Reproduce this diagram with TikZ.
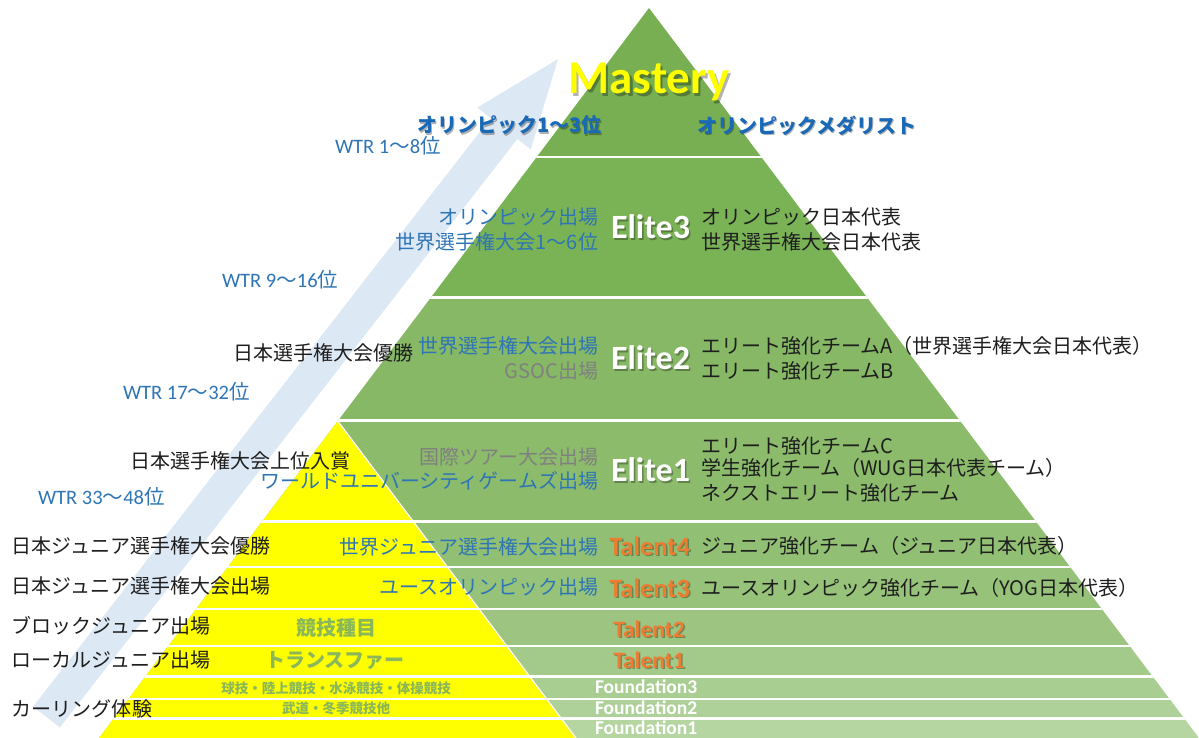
\documentclass[tikz,border=0pt]{standalone}
\usepackage{fontspec}
\setmainfont{Carlito}
\newfontfamily\jpf{Noto Sans CJK JP}
\newfontfamily\latf{Carlito}
\definecolor{arrowblue}{RGB}{221,232,245}
\definecolor{ablue}{RGB}{46,117,182}
\definecolor{dblue}{RGB}{25,105,182}
\definecolor{agray}{RGB}{128,128,128}
\definecolor{aorange}{RGB}{237,125,49}
\definecolor{tgreen}{RGB}{137,183,89}
\definecolor{tblack}{RGB}{30,30,30}
\definecolor{gA}{RGB}{119,175,82}
\definecolor{gB}{RGB}{122,178,86}
\definecolor{gC}{RGB}{134,184,101}
\definecolor{gD}{RGB}{139,187,107}
\definecolor{gE}{RGB}{145,191,115}
\definecolor{gF}{RGB}{150,194,121}
\definecolor{gG}{RGB}{157,197,129}
\definecolor{gH}{RGB}{163,202,138}
\definecolor{gI}{RGB}{169,206,146}
\definecolor{gJ}{RGB}{174,209,153}
\definecolor{gK}{RGB}{181,213,161}
\definecolor{pyellow}{RGB}{255,255,0}
\newcommand\wtrlabel[2]{{\latf WTR #1}{\jpf 〜}{\latf #2}{\jpf 位}}
\tikzset{
  base/.style={inner sep=0pt, outer sep=0pt},
  jp/.style={base, font=\jpf\fontsize{20}{24}\selectfont},
  jpblack/.style={jp, text=tblack},
  jpblue/.style={jp, text=ablue},
  jpgray/.style={jp, text=agray},
  jpbold/.style={base, font=\jpf\bfseries\fontsize{20}{24}\selectfont, text=dblue},
  wtr/.style={base, font=\fontsize{20.5}{24}\selectfont, text=ablue},
  sport/.style={base, font=\jpf\bfseries\fontsize{20}{24}\selectfont, text=tgreen},
  sportsmall/.style={base, font=\jpf\bfseries\fontsize{13.5}{16}\selectfont, text=tgreen},
  elite/.style={base, font=\latf\bfseries\fontsize{34}{40}\selectfont, text=white},
  talentbig/.style={base, font=\latf\bfseries\fontsize{26.5}{30}\selectfont, text=aorange},
  talentsmall/.style={base, font=\latf\bfseries\fontsize{23.5}{28}\selectfont, text=aorange},
  found/.style={base, font=\latf\bfseries\fontsize{19.5}{22}\selectfont, text=white},
  mastery/.style={base, font=\latf\bfseries\fontsize{47}{54}\selectfont, text=pyellow},
  shade/.style={text=black, text opacity=0.3},
  sep/.style={white, line width=2.4pt},
}
\begin{document}
\begin{tikzpicture}[x=1pt,y=-1pt]
\path[use as bounding box] (0,0) rectangle (1199,738);
\clip (0,0) rectangle (1199,738);
% big arrow
\fill[arrowblue] (33.1,706.6) -- (490.6,118.1) -- (477.2,107.6) -- (558,59)
  -- (530.8,149.4) -- (517.4,138.9) -- (59.9,727.4) -- cycle;
% pyramid
\begin{scope}
\clip (649,8) -- (1199,738) -- (99,738) -- cycle;
\fill[gA] (0,0) rectangle (1199,157);
\fill[gB] (0,157) rectangle (1199,297.5);
\fill[gC] (0,297.5) rectangle (1199,420.5);
\fill[gD] (0,420.5) rectangle (1199,521.5);
\fill[gE] (0,521.5) rectangle (1199,567);
\fill[gF] (0,567) rectangle (1199,609);
\fill[gG] (0,609) rectangle (1199,646);
\fill[gH] (0,646) rectangle (1199,676.5);
\fill[gI] (0,676.5) rectangle (1199,699);
\fill[gJ] (0,699) rectangle (1199,718.5);
\fill[gK] (0,718.5) rectangle (1199,738);
\fill[pyellow] (337.8,421) -- (576,738) -- (99,738) -- cycle;
\draw[white, line width=1.2pt] (337.8,421) -- (576,738);
\foreach \yy in {157,297.5,420.5,521.5,567,609,646,676.5,699,718.5}
  \draw[sep] (0,\yy) -- (1199,\yy);
\end{scope}
% Mastery
\node[mastery, shade] (masterys) at (651.5,84.5) {Mastery};
\node[mastery] (mastery) at (649,82) {Mastery};
\node[jpbold, shade, anchor=west] (olym13s) at (418.5,127) {オリンピック1〜3位};
\node[jpbold, anchor=west] (olym13) at (417,125.5) {オリンピック1〜3位};
\node[jpbold, shade, anchor=west] (medals) at (698.5,127) {オリンピックメダリスト};
\node[jpbold, anchor=west] (medal) at (697,125.5) {オリンピックメダリスト};
% WTR labels
\node[wtr, anchor=west] (wtr1) at (335,146) {\wtrlabel{1}{8}};
\node[wtr, anchor=west] (wtr2) at (222,280) {\wtrlabel{9}{16}};
\node[wtr, anchor=west] (wtr3) at (123,392) {\wtrlabel{17}{32}};
\node[wtr, anchor=west] (wtr4) at (38,497) {\wtrlabel{33}{48}};
% left labels
\node[jpblack, anchor=west] (l1) at (233,353) {日本選手権大会優勝};
\node[jpblack, anchor=west] (l2) at (130,461) {日本選手権大会上位入賞};
\node[jpblack, anchor=west] (l3) at (12,546) {日本ジュニア選手権大会優勝};
\node[jpblack, anchor=west] (l4) at (12,586) {日本ジュニア選手権大会出場};
\node[jpblack, anchor=west] (l5) at (12,626) {ブロックジュニア出場};
\node[jpblack, anchor=west] (l6) at (12,660) {ローカルジュニア出場};
\node[jpblack, anchor=west] (l7) at (12,709) {カーリング体験};
% middle labels
\node[jpblue, anchor=east] (m1) at (598,217) {オリンピック出場};
\node[jpblue, anchor=east] (m2) at (598,242) {世界選手権大会1〜6位};
\node[jpblue, anchor=east] (m3) at (598,346) {世界選手権大会出場};
\node[jpgray, anchor=east] (m4) at (598,371) {GSOC出場};
\node[jpgray, anchor=east] (m5) at (598,457) {国際ツアー大会出場};
\node[jpblue, anchor=east] (m6) at (598,481) {ワールドユニバーシティゲームズ出場};
\node[jpblue, anchor=east] (m7) at (598,547) {世界ジュニア選手権大会出場};
\node[jpblue, anchor=east] (m8) at (598,587) {ユースオリンピック出場};
\node[sport] (s1) at (336,628) {競技種目};
\node[sport] (s2) at (335,661) {トランスファー};
\node[sportsmall] (s3) at (336,688) {球技・陸上競技・水泳競技・体操競技};
\node[sportsmall] (s4) at (336,708) {武道・冬季競技他};
% level labels
\node[elite, shade, anchor=east] (e3s) at (691.5,228.5) {Elite3};
\node[elite, anchor=east] (e3) at (690,227) {Elite3};
\node[elite, shade, anchor=east] (e2s) at (691.5,359.5) {Elite2};
\node[elite, anchor=east] (e2) at (690,358) {Elite2};
\node[elite, shade, anchor=east] (e1s) at (691.5,471.5) {Elite1};
\node[elite, anchor=east] (e1) at (690,470) {Elite1};
\node[talentbig, shade, anchor=east] (t4s) at (691.5,547.5) {Talent4};
\node[talentbig, anchor=east] (t4) at (690,546) {Talent4};
\node[talentbig, shade, anchor=east] (t3s) at (691.5,589.5) {Talent3};
\node[talentbig, anchor=east] (t3) at (690,588) {Talent3};
\node[talentsmall, shade] (t2s) at (650.5,630.5) {Talent2};
\node[talentsmall] (t2) at (649,629) {Talent2};
\node[talentsmall, shade] (t1s) at (650.5,661.5) {Talent1};
\node[talentsmall] (t1) at (649,660) {Talent1};
\node[found, anchor=west] (f3) at (595,687) {Foundation3};
\node[found, anchor=west] (f2) at (595,707.5) {Foundation2};
\node[found, anchor=west] (f1) at (595,727.5) {Foundation1};
% right labels
\node[jpblack, anchor=west] (r1) at (701,217) {オリンピック日本代表};
\node[jpblack, anchor=west] (r2) at (701,242) {世界選手権大会日本代表};
\node[jpblack, anchor=west] (r3) at (701,346) {エリート強化チームA（世界選手権大会日本代表）};
\node[jpblack, anchor=west] (r4) at (701,371) {エリート強化チームB};
\node[jpblack, anchor=west] (r5) at (701,446) {エリート強化チームC};
\node[jpblack, anchor=west] (r6) at (701,468) {学生強化チーム（WUG日本代表チーム）};
\node[jpblack, anchor=west] (r7) at (701,493) {ネクストエリート強化チーム};
\node[jpblack, anchor=west] (r8) at (701,546) {ジュニア強化チーム（ジュニア日本代表）};
\node[jpblack, anchor=west] (r9) at (701,588) {ユースオリンピック強化チーム（YOG日本代表）};
\end{tikzpicture}
\end{document}
